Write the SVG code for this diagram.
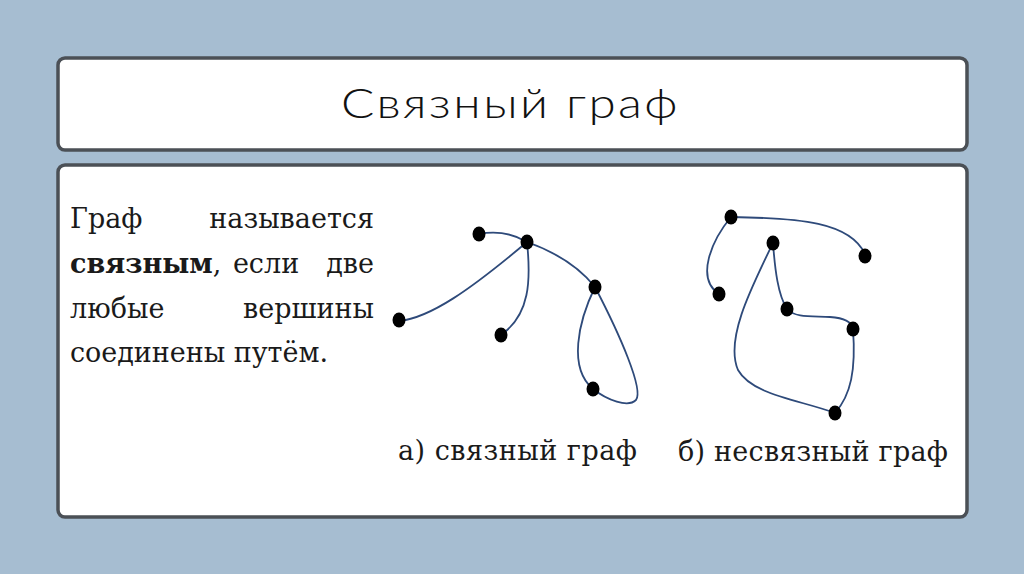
<svg xmlns="http://www.w3.org/2000/svg" width="1024" height="574" viewBox="0 0 1024 574">
<style>
.box{fill:#fff;stroke:#4b5056;stroke-width:3.5}
.title{font-family:"Lato","Open Sans","Liberation Sans",sans-serif;font-weight:300;font-size:41px;letter-spacing:2px;fill:#111}
.body{font-family:"DejaVu Serif","Liberation Serif",serif;font-size:27px;fill:#1a1a1a}
.b{font-weight:bold}
.edge{fill:none;stroke:#2e4a7a;stroke-width:1.8}
.node{fill:#000}
</style>
<rect width="1024" height="574" fill="#a6bdd1"/>
<g id="title-box">
<rect class="box" x="58" y="58" width="909" height="92" rx="7"/>
<text class="title" x="341" y="118" textLength="339" lengthAdjust="spacingAndGlyphs">Связный граф</text>
</g>
<g id="content-box">
<rect class="box" x="58" y="165" width="909" height="352" rx="7"/>
</g>
<g id="definition">
<text class="body" x="70" y="228">Граф</text>
<text class="body" x="374" y="228" text-anchor="end">называется</text>
<text class="body b" x="70" y="273">связным<tspan font-weight="normal">,</tspan></text>
<text class="body" x="266" y="273" text-anchor="middle">если</text>
<text class="body" x="374" y="273" text-anchor="end">две</text>
<text class="body" x="70" y="318">любые</text>
<text class="body" x="374" y="318" text-anchor="end">вершины</text>
<text class="body" x="70" y="362" textLength="258">соединены путём.</text>
</g>
<g id="connectors">
<path class="edge" d="M479,234 Q505,229 527,242"/>
<path class="edge" d="M399,321 C430,318 470,290 527,242"/>
<path class="edge" d="M527,242 C531,280 530,315 501,335"/>
<path class="edge" d="M527,242 Q572,258 595,287"/>
<path class="edge" d="M595,287 C578,322 568,368 593,389"/>
<path class="edge" d="M593,389 C607,400 628,408 636,400 C644,390 620,335 595,287"/>
<path class="edge" d="M731,217 C800,218 850,222 865,254"/>
<path class="edge" d="M731,217 C712,240 695,278 719,294"/>
<path class="edge" d="M773,243 C775,270 778,295 787,309"/>
<path class="edge" d="M787,309 C795,318 812,316 830,317 C846,318 852,322 853,329"/>
<path class="edge" d="M773,243 C750,290 725,340 738,370 C752,395 800,400 835,413"/>
<path class="edge" d="M853,329 C856,370 851,395 835,413"/>
</g>
<g id="graph-a">
<ellipse class="node" cx="479" cy="234" rx="6.5" ry="7.5"/>
<ellipse class="node" cx="527" cy="242" rx="6.5" ry="7.5"/>
<ellipse class="node" cx="595" cy="287" rx="6.5" ry="7.5"/>
<ellipse class="node" cx="399" cy="320" rx="6.5" ry="7.5"/>
<ellipse class="node" cx="501" cy="335" rx="6.5" ry="7.5"/>
<ellipse class="node" cx="593" cy="389" rx="6.5" ry="7.5"/>
<text class="body" x="398" y="460" textLength="239">а) связный граф</text>
</g>
<g id="graph-b">
<ellipse class="node" cx="731" cy="217" rx="6.5" ry="7.5"/>
<ellipse class="node" cx="773" cy="243" rx="6.5" ry="7.5"/>
<ellipse class="node" cx="865" cy="256" rx="6.5" ry="7.5"/>
<ellipse class="node" cx="719" cy="294" rx="6.5" ry="7.5"/>
<ellipse class="node" cx="787" cy="309" rx="6.5" ry="7.5"/>
<ellipse class="node" cx="853" cy="329" rx="6.5" ry="7.5"/>
<ellipse class="node" cx="835" cy="413" rx="6.5" ry="7.5"/>
<text class="body" x="678" y="461" textLength="270">б) несвязный граф</text>
</g>
</svg>
